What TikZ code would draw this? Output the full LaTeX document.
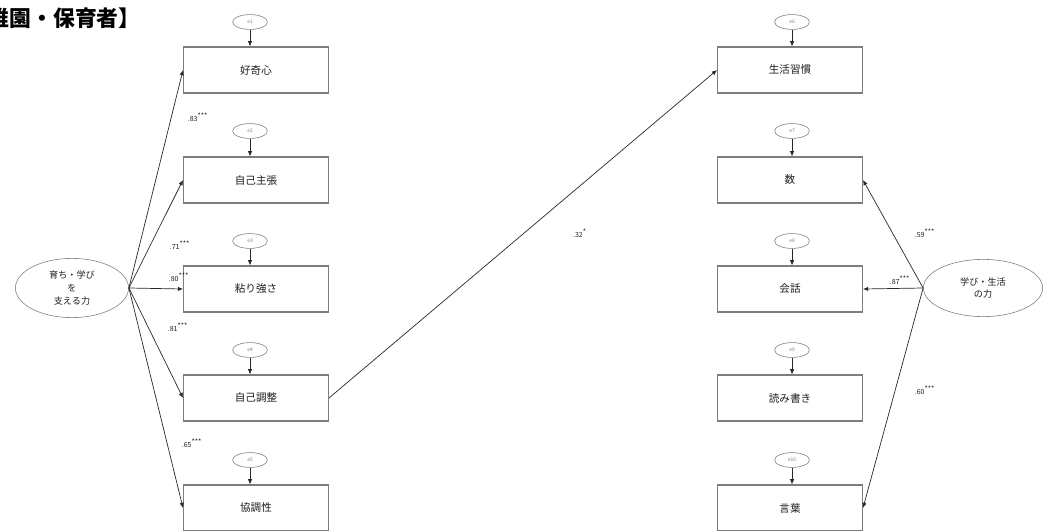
\documentclass[tikz,border=0pt]{standalone}
\usepackage{fontspec}
\setmainfont{Noto Sans CJK JP}
\usetikzlibrary{arrows.meta,positioning,shapes.geometric}
\definecolor{SemInk}{RGB}{40,40,40}
\definecolor{SemGray}{RGB}{125,125,125}
\definecolor{SemText}{RGB}{30,30,30}
\tikzset{
  sem/box/.style={
    draw=SemGray,
    thick,
    fill=white,
    align=center,
    text=SemText,
    minimum width=3.62cm,
    minimum height=1.15cm,
    font=\fontsize{7.5}{9}\selectfont
  },
  sem/err/.style={
    ellipse,
    draw=SemGray,
    fill=white,
    inner sep=0pt,
    minimum width=0.87cm,
    minimum height=0.37cm,
    text=SemGray,
    font=\fontsize{3.5}{4}\selectfont
  },
  sem/latent/.style={
    ellipse,
    draw=SemGray,
    fill=white,
    align=center,
    inner sep=0pt,
    text=SemText,
    font=\fontsize{6.5}{9}\selectfont
  },
  sem/arrow/.style={-{Latex[length=1.3mm,width=1.1mm]}, draw=SemInk, line width=0.5pt},
  sem/coef/.style={font=\fontsize{5}{6}\selectfont, text=SemText, inner sep=1pt},
  sem/title/.style={font=\fontsize{15.5}{17}\selectfont\bfseries, text=black, inner sep=0pt}
}
\begin{document}
\begin{tikzpicture}[x=0.025cm,y=-0.025cm]
  \useasboundingbox (0,0) rectangle (1043,531);
  \node[sem/title,anchor=west] (title) at (-56,18) {【幼稚園・保育者】};

  % left block
  \node[sem/latent,minimum width=2.83cm,minimum height=1.48cm] (lat1) at (72,288) {育ち・学び\\を\\支える力};
  \node[sem/box] (b1) at (256,70) {好奇心};
  \node[sem/box] (b2) at (256,180) {自己主張};
  \node[sem/box] (b3) at (256,289) {粘り強さ};
  \node[sem/box] (b4) at (256,398) {自己調整};
  \node[sem/box] (b5) at (256,508) {協調性};
  \node[sem/err] (e1) at (250,22) {e1};
  \node[sem/err] (e2) at (250,131) {e2};
  \node[sem/err] (e3) at (250,241) {e3};
  \node[sem/err] (e4) at (250,350) {e4};
  \node[sem/err] (e5) at (250,460) {e5};

  % right block
  \node[sem/latent,minimum width=2.98cm,minimum height=1.43cm] (lat2) at (983,288) {学び・生活\\の力};
  \node[sem/box] (r1) at (790,70) {生活習慣};
  \node[sem/box] (r2) at (790,180) {数};
  \node[sem/box] (r3) at (790,289) {会話};
  \node[sem/box] (r4) at (790,398) {読み書き};
  \node[sem/box] (r5) at (790,508) {言葉};
  \node[sem/err] (e6) at (792,22) {e6};
  \node[sem/err] (e7) at (792,131) {e7};
  \node[sem/err] (e8) at (792,241) {e8};
  \node[sem/err] (e9) at (792,350) {e9};
  \node[sem/err] (e10) at (792,460) {e10};

  \foreach \e/\b in {e1/b1,e2/b2,e3/b3,e4/b4,e5/b5,e6/r1,e7/r2,e8/r3,e9/r4,e10/r5}
    \draw[sem/arrow] (\e) -- (\e |- \b.north);

  \foreach \b in {b1,b2,b3,b4,b5}
    \draw[sem/arrow] (lat1.east) -- (\b.west);
  \foreach \b in {r2,r3,r5}
    \draw[sem/arrow] (lat2.west) -- (\b.east);
  \draw[sem/arrow] (b4.east) -- (r1.west);

  % path coefficients
  \node[sem/coef] (c1) at (198,117) {.83\textsuperscript{***}};
  \node[sem/coef] (c2) at (180,245) {.71\textsuperscript{***}};
  \node[sem/coef] (c3) at (179,277) {.80\textsuperscript{***}};
  \node[sem/coef] (c4) at (178,327) {.81\textsuperscript{***}};
  \node[sem/coef] (c5) at (192,443) {.65\textsuperscript{***}};
  \node[sem/coef] (c6) at (580,233) {.32\textsuperscript{*}};
  \node[sem/coef] (c7) at (925,233) {.59\textsuperscript{***}};
  \node[sem/coef] (c8) at (900,280) {.87\textsuperscript{***}};
  \node[sem/coef] (c9) at (925,390) {.60\textsuperscript{***}};
\end{tikzpicture}
\end{document}
